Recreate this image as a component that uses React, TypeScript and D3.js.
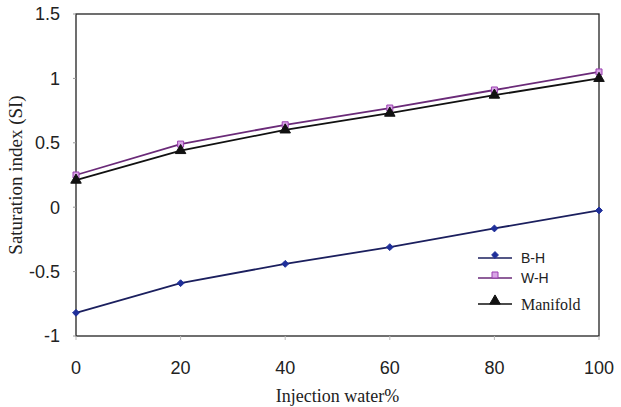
import React from "react";
import * as d3 from "d3";

const injection = [0, 20, 40, 60, 80, 100];
const bh = [-0.82, -0.59, -0.44, -0.31, -0.165, -0.025];
const wh = [0.25, 0.49, 0.64, 0.77, 0.91, 1.05];
const manifold = [0.21, 0.44, 0.6, 0.73, 0.87, 1.0];
const yTicks = [-1, -0.5, 0, 0.5, 1, 1.5];

const W = 621;
const H = 407;
const m = { left: 76, right: 22, top: 14, bottom: 71 };

export default function App() {
  const x = d3.scaleLinear().domain([0, 100]).range([m.left, W - m.right]);
  const y = d3.scaleLinear().domain([-1, 1.5]).range([H - m.bottom, m.top]);

  const line = d3
    .line<number>()
    .x((_, i) => x(injection[i]))
    .y((d) => y(d));

  const diamond = d3.symbol().type(d3.symbolDiamond2).size(30);
  const square = d3.symbol().type(d3.symbolSquare).size(36);
  const triangle = d3.symbol().type(d3.symbolTriangle).size(48);

  const series = [
    { name: "B-H", data: bh, stroke: "#1b1f5e", marker: diamond(), fill: "#1f2f9a", mstroke: "#1f2f9a", font: "Liberation Sans" },
    { name: "W-H", data: wh, stroke: "#6a2a78", marker: square(), fill: "#d9a6e6", mstroke: "#9a3fb0", font: "Liberation Sans" },
    { name: "Manifold", data: manifold, stroke: "#111", marker: triangle(), fill: "#111", mstroke: "#111", font: "Liberation Serif" },
  ];

  return (
    <svg
      width={W}
      height={H}
      style={{ position: "absolute", left: 0, top: 0, background: "#fff" }}
    >
      <rect
        x={m.left}
        y={m.top}
        width={W - m.left - m.right}
        height={H - m.top - m.bottom}
        fill="none"
        stroke="#222"
        strokeWidth={1.3}
      />
      {yTicks.map((t) => (
        <g key={t}>
          <line x1={m.left - 3} x2={m.left} y1={y(t)} y2={y(t)} stroke="#999" />
          <text
            x={m.left - 16}
            y={y(t)}
            dy="0.35em"
            textAnchor="end"
            fontFamily="Liberation Sans"
            fontSize={18}
            fill="#222"
          >
            {t}
          </text>
        </g>
      ))}
      {injection.map((t) => (
        <g key={t}>
          <line x1={x(t)} x2={x(t)} y1={H - m.bottom} y2={H - m.bottom + 4} stroke="#bbb" />
          <text
            x={x(t)}
            y={H - m.bottom + 38}
            textAnchor="middle"
            fontFamily="Liberation Sans"
            fontSize={18}
            fill="#222"
          >
            {t}
          </text>
        </g>
      ))}
      <text
        x={m.left + (W - m.left - m.right) / 2}
        y={H - 5}
        textAnchor="middle"
        fontFamily="Liberation Serif"
        fontSize={18}
        fill="#222"
      >
        Injection water%
      </text>
      <text
        transform={`translate(22,${y(0.25)}) rotate(-90)`}
        textAnchor="middle"
        fontFamily="Liberation Serif"
        fontSize={19}
        fill="#222"
      >
        Saturation index (SI)
      </text>
      {series.map((s) => (
        <g key={s.name}>
          <path d={line(s.data) || ""} fill="none" stroke={s.stroke} strokeWidth={1.8} />
          {s.data.map((v, i) => (
            <path
              key={i}
              d={s.marker || ""}
              transform={`translate(${x(injection[i])},${y(v)})`}
              fill={s.fill}
              stroke={s.mstroke}
              strokeWidth={1}
            />
          ))}
        </g>
      ))}
      {series.map((s, i) => {
        const ly = [258, 278, 304][i];
        return (
          <g key={s.name}>
            <line x1={478} x2={512} y1={ly} y2={ly} stroke={s.stroke} strokeWidth={1.5} />
            <path d={s.marker || ""} transform={`translate(495,${ly - 3})`} fill={s.fill} stroke={s.mstroke} />
            <text
              x={521}
              y={ly}
              dy="0.35em"
              fontFamily={s.font}
              fontSize={s.name === "Manifold" ? 16 : 14}
              fill="#222"
            >
              {s.name}
            </text>
          </g>
        );
      })}
    </svg>
  );
}
